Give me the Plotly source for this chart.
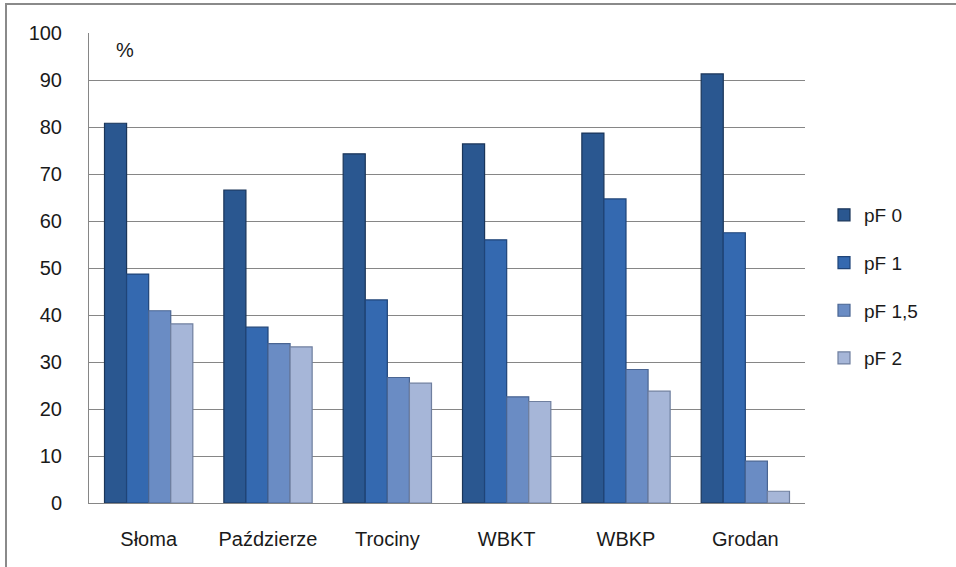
import plotly.graph_objects as go

categories = ["Słoma", "Paździerze", "Trociny", "WBKT", "WBKP", "Grodan"]
series_names = ["pF 0", "pF 1", "pF 1,5", "pF 2"]
pf0 = [80.8, 66.6, 74.3, 76.4, 78.7, 91.3]
pf1 = [48.7, 37.4, 43.2, 56.0, 64.7, 57.5]
pf15 = [40.9, 33.9, 26.7, 22.6, 28.4, 8.9]
pf2 = [38.1, 33.2, 25.5, 21.6, 23.8, 2.5]
y_ticks = [0, 10, 20, 30, 40, 50, 60, 70, 80, 90, 100]

fills = ["#2a5790", "#3469b0", "#6a8cc4", "#a6b6d8"]
edges = ["#1a3559", "#1f4478", "#4a6592", "#6f7f9f"]

W, H = 956, 567
L, R, T, B = 89, 805, 33, 503

fig = go.Figure()
for name, vals, fc, ec in zip(series_names, [pf0, pf1, pf15, pf2], fills, edges):
    fig.add_trace(go.Bar(
        x=categories, y=vals, name=name, legendgroup=name,
        marker=dict(color=fc, line=dict(color=ec, width=1.2)),
    ))

font = "Liberation Sans, Arial, sans-serif"

def px_x(p):
    return (p - L) / (R - L)

def px_y(p):
    return (B - p) / (B - T)

fig.update_layout(
    width=W, height=H,
    margin=dict(l=L, r=W - R, t=T, b=H - B),
    paper_bgcolor="white", plot_bgcolor="white",
    barmode="group", bargap=0.26, bargroupgap=0.0,
    font=dict(family=font, size=19, color="#1a1a1a"),
    legend=dict(
        x=px_x(824), y=px_y(196), xanchor="left", yanchor="top",
        traceorder="grouped", tracegroupgap=20,
        font=dict(size=19, family=font),
        itemwidth=30,
    ),
    xaxis=dict(
        showgrid=False, showline=True, linecolor="#868686", linewidth=1,
        ticks="", ticklabelstandoff=18, tickfont=dict(size=20),
    ),
    yaxis=dict(
        range=[0, 100], tickvals=y_ticks, showgrid=True,
        gridcolor="#868686", gridwidth=1, zeroline=False,
        showline=True, linecolor="#868686", linewidth=1,
        ticks="", ticklabelstandoff=22, tickfont=dict(size=20),
    ),
    annotations=[dict(
        text="%", x=px_x(114), y=px_y(50), xref="paper", yref="paper",
        xanchor="left", yanchor="middle", showarrow=False,
        font=dict(size=20, family=font),
    )],
    shapes=[
        dict(type="line", xref="paper", yref="paper",
             x0=px_x(5), x1=px_x(956), y0=px_y(4), y1=px_y(4),
             line=dict(color="#8a8a8a", width=2)),
        dict(type="line", xref="paper", yref="paper",
             x0=px_x(6), x1=px_x(6), y0=px_y(4), y1=px_y(567),
             line=dict(color="#8a8a8a", width=2)),
    ],
)

fig.write_html("out.html")
